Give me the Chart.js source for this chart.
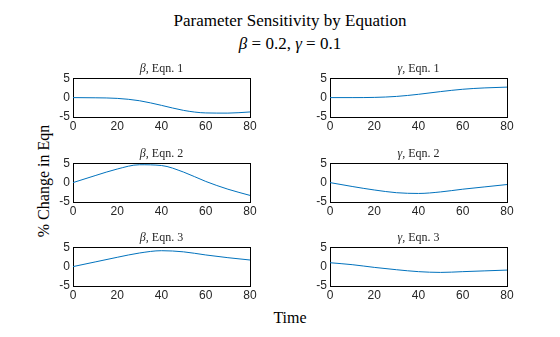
<!DOCTYPE html>
<html>
<head>
<meta charset="utf-8">
<script src="https://cdn.jsdelivr.net/npm/chart.js@4"></script>
<style>
  body { margin: 0; background: #fff; }
  #wrap { position: relative; width: 560px; height: 337px; overflow: hidden; font-family: "Liberation Serif", "DejaVu Serif", serif; color: #000; }
  canvas { position: absolute; }
  .t { position: absolute; white-space: nowrap; transform: translate(-50%, -50%); font-family: "Liberation Serif", serif; }
  .sub { font-size: 12px; color: #262626; }
</style>
</head>
<body>
<div id="wrap">
  <div class="t" style="left:290px;top:21px;font-size:17px">Parameter Sensitivity by Equation</div>
  <div class="t" style="left:290px;top:44px;font-size:17px"><i>β</i> = 0.2, <i>γ</i> = 0.1</div>
  <div class="t" style="left:44px;top:181px;font-size:16px;transform:translate(-50%,-50%) rotate(-90deg)">% Change in Eqn</div>
  <div class="t" style="left:290px;top:318px;font-size:16px">Time</div>
</div>
<script>
const timeLabels = [0, 10, 20, 30, 40, 50, 60, 70, 80];
const titles = ['β, Eqn. 1', 'γ, Eqn. 1', 'β, Eqn. 2', 'γ, Eqn. 2', 'β, Eqn. 3', 'γ, Eqn. 3'];

const betaEqn1  = [0, -0.05, -0.2, -0.8, -2.0, -3.3, -3.95, -4.0, -3.7];
const gammaEqn1 = [0, 0.0, 0.05, 0.3, 0.85, 1.55, 2.15, 2.5, 2.7];
const betaEqn2  = [0, 1.8, 3.5, 4.6, 4.4, 2.7, 0.3, -1.7, -3.3];
const gammaEqn2 = [0, -1.0, -1.9, -2.6, -2.8, -2.4, -1.7, -1.1, -0.5];
const betaEqn3  = [0, 1.2, 2.4, 3.5, 4.1, 3.8, 3.0, 2.3, 1.7];
const gammaEqn3 = [1.0, 0.5, -0.2, -0.8, -1.3, -1.5, -1.3, -1.1, -0.9];

const series = [betaEqn1, gammaEqn1, betaEqn2, gammaEqn2, betaEqn3, gammaEqn3];

const wrap = document.getElementById('wrap');
const rowTops = [76, 161, 245];
const colLefts = [73, 330];
const plotW = 177, plotH = 41;
const yAxisW = 30, xAxisH = 18;
const tickFont = { family: 'Liberation Sans', size: 12 };

series.forEach((vals, i) => {
  const row = Math.floor(i / 2), col = i % 2;
  const px = colLefts[col], py = rowTops[row];
  const padL = 10, padT = 8, padR = 14, padB = 4;
  const cw = padL + yAxisW + plotW + padR;
  const ch = padT + plotH + xAxisH + padB;

  const cv = document.createElement('canvas');
  cv.width = cw; cv.height = ch;
  cv.style.left = (px - yAxisW - padL) + 'px';
  cv.style.top = (py - padT) + 'px';
  cv.style.width = cw + 'px'; cv.style.height = ch + 'px';
  wrap.appendChild(cv);

  const [sym, rest] = titles[i].split(',');
  const tt = document.createElement('div');
  tt.className = 't sub';
  tt.style.left = (px + plotW / 2) + 'px';
  tt.style.top = (py - 8) + 'px';
  tt.innerHTML = '<i>' + sym + '</i>,' + rest;
  wrap.appendChild(tt);

  new Chart(cv, {
    type: 'line',
    data: {
      datasets: [{
        data: vals.map((v, k) => ({ x: timeLabels[k], y: v })),
        borderColor: '#0072BD',
        borderWidth: 1,
        pointRadius: 0,
        cubicInterpolationMode: 'monotone',
        fill: false,
      }],
    },
    options: {
      responsive: false,
      animation: false,
      events: [],
      layout: { padding: { left: padL, top: padT, right: padR, bottom: padB } },
      plugins: { legend: { display: false }, tooltip: { enabled: false } },
      scales: {
        x: {
          type: 'linear', min: 0, max: 80,
          afterFit: s => { s.height = xAxisH; },
          ticks: { stepSize: 20, maxRotation: 0, padding: 2, color: '#262626', font: tickFont },
          grid: { display: false, drawTicks: false },
          border: { display: true, color: '#000', width: 1 },
        },
        y: {
          min: -5, max: 5,
          afterFit: s => { s.width = yAxisW; },
          ticks: { stepSize: 5, padding: 3, color: '#262626', font: tickFont },
          grid: { display: false, drawTicks: false },
          border: { display: true, color: '#000', width: 1 },
        },
        x2: {
          type: 'linear', position: 'top', min: 0, max: 80,
          afterFit: s => { s.height = 0; },
          ticks: { display: false }, grid: { display: false, drawTicks: false },
          border: { display: true, color: '#000', width: 1 },
        },
        y2: {
          position: 'right', min: -5, max: 5,
          afterFit: s => { s.width = 0; },
          ticks: { display: false }, grid: { display: false, drawTicks: false },
          border: { display: true, color: '#000', width: 1 },
        },
      },
    },
  });
});
</script>
</body>
</html>
